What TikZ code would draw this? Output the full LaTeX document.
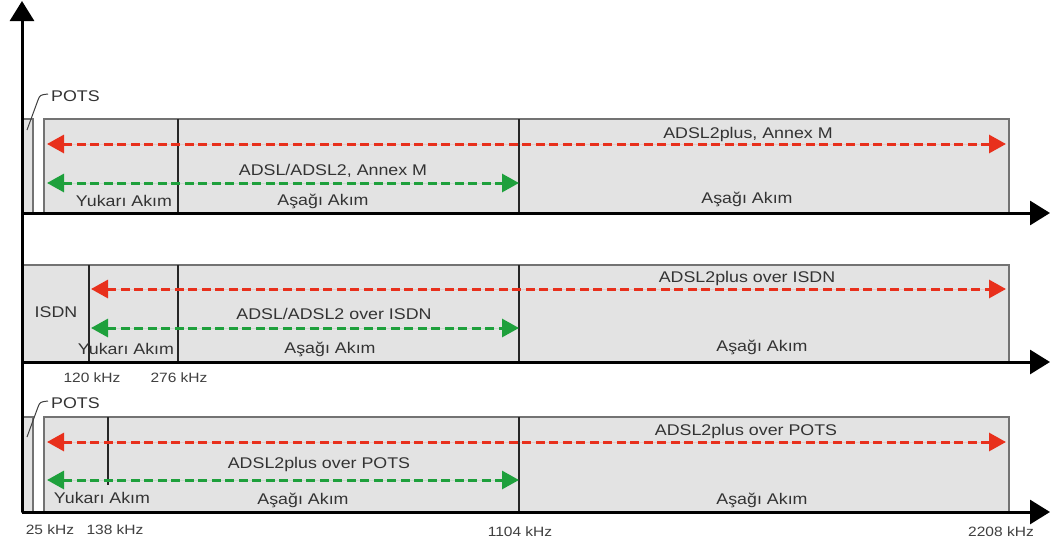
\documentclass[tikz,border=0pt]{standalone}
\usepackage{fontspec}
\setmainfont[FakeStretch=1.15]{Liberation Sans}
\usetikzlibrary{arrows.meta}
\definecolor{arrred}{RGB}{232,48,28}
\definecolor{arrgreen}{RGB}{30,160,60}
\tikzset{
  band/.style={draw=black!55, line width=1.2pt, fill=black!11},
  divider/.style={draw=black!85, line width=1.3pt},
  axisline/.style={line width=3pt, -{Triangle[length=20pt,width=24pt]}},
  bandarrow/.style={line width=3pt, dash pattern=on 9pt off 4.5pt,
    {Triangle[length=17pt,width=18pt]}-{Triangle[length=17pt,width=18pt]}},
  redarrow/.style={bandarrow, draw=arrred, fill=arrred},
  greenarrow/.style={bandarrow, draw=arrgreen, fill=arrgreen},
  leader/.style={draw=black!75, line width=1pt},
  lbl/.style={font=\fontsize{15.5}{18}\selectfont, text=black!80, inner sep=0pt, anchor=base},
  sml/.style={font=\fontsize{13.5}{16}\selectfont, text=black!75, inner sep=0pt, anchor=base},
}
\begin{document}
\begin{tikzpicture}[x=1pt,y=-1pt]
\fill[white] (0,0) rectangle (1050,544);
\useasboundingbox (0,0) rectangle (1050,544);

% bands
\draw[band] (22,119) rectangle (33,213);
\draw[band] (44,119) rectangle (1009,213);
\draw[band] (22,265) rectangle (1009,362);
\draw[band] (22,417) rectangle (33,512);
\draw[band] (44,417) rectangle (1009,512);

% dividers
\coordinate (d1at) at (178,119); \coordinate (d1ab) at (178,213);
\coordinate (d1bt) at (519,119); \coordinate (d1bb) at (519,213);
\draw[divider] (d1at) -- (d1ab);
\draw[divider] (d1bt) -- (d1bb);
\coordinate (d2at) at (89,265);  \coordinate (d2ab) at (89,362);
\coordinate (d2bt) at (178,265); \coordinate (d2bb) at (178,362);
\coordinate (d2ct) at (519,265); \coordinate (d2cb) at (519,362);
\draw[divider] (d2at) -- (d2ab);
\draw[divider] (d2bt) -- (d2bb);
\draw[divider] (d2ct) -- (d2cb);
\coordinate (d3at) at (108,417); \coordinate (d3ab) at (108,485);
\coordinate (d3bt) at (519,417); \coordinate (d3bb) at (519,512);
\draw[divider] (d3at) -- (d3ab);
\draw[divider] (d3bt) -- (d3bb);

% axes
\coordinate (origin) at (22,512);
\coordinate (ytip) at (22,1);
\coordinate (a1s) at (22,213); \coordinate (a1e) at (1050,213);
\coordinate (a2s) at (22,362); \coordinate (a2e) at (1050,362);
\coordinate (a3e) at (1050,512);
\draw[axisline] (origin) -- (ytip);
\draw[axisline] (a1s) -- (a1e);
\draw[axisline] (a2s) -- (a2e);
\draw[axisline] (origin) -- (a3e);

% band arrows
\coordinate (r1s) at (47,144);  \coordinate (r1e) at (1006,144);
\coordinate (g1s) at (47,183);  \coordinate (g1e) at (519,183);
\coordinate (r2s) at (91,289);  \coordinate (r2e) at (1006,289);
\coordinate (g2s) at (91,328);  \coordinate (g2e) at (519,328);
\coordinate (r3s) at (47,442);  \coordinate (r3e) at (1006,442);
\coordinate (g3s) at (47,480);  \coordinate (g3e) at (519,480);
\draw[redarrow] (r1s) -- (r1e);
\draw[greenarrow] (g1s) -- (g1e);
\draw[redarrow] (r2s) -- (r2e);
\draw[greenarrow] (g2s) -- (g2e);
\draw[redarrow] (r3s) -- (r3e);
\draw[greenarrow] (g3s) -- (g3e);

% POTS leaders
\coordinate (p1a) at (27,130); \coordinate (p1b) at (38,100); \coordinate (p1c) at (48,94);
\draw[leader] (p1a) -- (p1b) .. controls (40,95) .. (p1c);
\coordinate (p3a) at (27,437); \coordinate (p3b) at (38,407); \coordinate (p3c) at (48,401);
\draw[leader] (p3a) -- (p3b) .. controls (40,402) .. (p3c);

% texts band 1
\node[lbl, anchor=base west] (pots1) at (51,101.5) {POTS};
\node[lbl] (t1a) at (748,138.5) {ADSL2plus, Annex M};
\node[lbl] (t1b) at (333,175.5) {ADSL/ADSL2, Annex M};
\node[lbl] (t1c) at (124,206.5) {Yukarı Akım};
\node[lbl] (t1d) at (323,205.5) {Aşağı Akım};
\node[lbl] (t1e) at (747,203.5) {Aşağı Akım};

% texts band 2
\node[lbl] (isdn) at (56,317.5) {ISDN};
\node[lbl] (t2a) at (747,282.5) {ADSL2plus over ISDN};
\node[lbl] (t2b) at (334,319.5) {ADSL/ADSL2 over ISDN};
\node[lbl] (t2c) at (126,354.5) {Yukarı Akım};
\node[lbl] (t2d) at (330,353.5) {Aşağı Akım};
\node[lbl] (t2e) at (762,351.5) {Aşağı Akım};
\node[sml] (f120) at (92,382.8) {120 kHz};
\node[sml] (f276) at (179,382.8) {276 kHz};

% texts band 3
\node[lbl, anchor=base west] (pots3) at (51,408.5) {POTS};
\node[lbl] (t3a) at (746,435.5) {ADSL2plus over POTS};
\node[lbl] (t3b) at (319,468.5) {ADSL2plus over POTS};
\node[lbl] (t3c) at (102,503.5) {Yukarı Akım};
\node[lbl] (t3d) at (303,504.5) {Aşağı Akım};
\node[lbl] (t3e) at (762,504.5) {Aşağı Akım};
\node[sml] (f25) at (50,534.8) {25 kHz};
\node[sml] (f138) at (115,534.8) {138 kHz};
\node[sml] (f1104) at (520,536.8) {1104 kHz};
\node[sml] (f2208) at (1001,536.8) {2208 kHz};
\end{tikzpicture}
\end{document}
